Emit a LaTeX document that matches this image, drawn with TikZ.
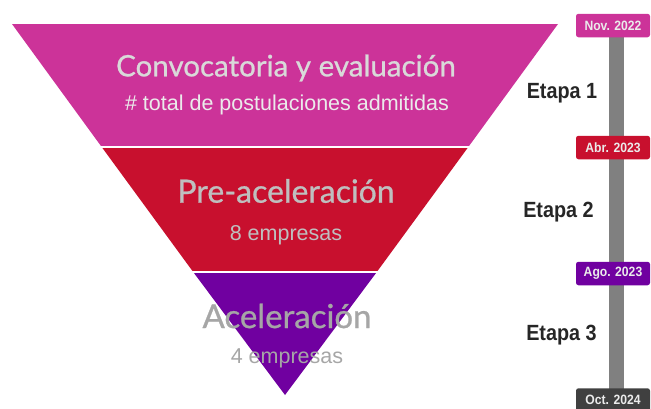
\documentclass[tikz,border=0pt]{standalone}
\usepackage{fontspec}
\setmainfont{Lato}
\newfontfamily\titlefont[FakeBold=0.8]{Lato}
\newfontfamily\subfont{Liberation Sans}
\newfontfamily\etfont[FakeStretch=0.9]{Liberation Sans}
\definecolor{cpink}{HTML}{CC3399}
\definecolor{cred}{HTML}{C8102E}
\definecolor{cpurple}{HTML}{7000A0}
\definecolor{cbar}{HTML}{808080}
\definecolor{cdark}{HTML}{404040}
\begin{document}
\begin{tikzpicture}[x=1pt,y=-1pt,
  title/.style={inner sep=0pt},
  sub/.style={font=\subfont\fontsize{21.5}{23}\selectfont, inner sep=0pt},
  etapa/.style={font=\etfont\bfseries\fontsize{22}{24}\selectfont, text=black!85, inner sep=0pt},
  datebox/.style={rounded corners=2.5pt, minimum width=74pt, minimum height=23.5pt, inner sep=0pt, text=white!92!black, font=\etfont\bfseries\fontsize{13.5}{15}\selectfont}]
\useasboundingbox (0,0) rectangle (651,408);
% funnel
\fill[cpink] (12,24) -- (558,24) -- (468.3,147) -- (101.7,147) -- cycle;
\fill[cred] (101.7,147) -- (468.3,147) -- (376.8,272) -- (193.2,272) -- cycle;
\fill[cpurple] (193.2,272) -- (376.8,272) -- (285,395) -- cycle;
\draw[white, line width=1.8pt] (90,147) -- (480,147);
\draw[white, line width=1.8pt] (180,272) -- (390,272);
% texts
\node[title, font=\titlefont\fontsize{29.5}{31}\selectfont, text=white!85!black] (t1) at (286,68) {Convocatoria y evaluación};
\node[sub, text=white!92!black] (s1) at (287,105) {\# total de postulaciones admitidas};
\node[title, font=\titlefont\fontsize{32}{34}\selectfont, text=white!75!black] (t2) at (286,191) {Pre-aceleración};
\node[sub, text=white!75!black] (s2) at (286,235) {8 empresas};
\node[title, font=\titlefont\fontsize{33}{35}\selectfont, text=white!65!black] (t3) at (287,316) {Aceleración};
\node[sub, text=white!65!black] (s3) at (287,358) {4 empresas};
% timeline
\fill[cbar] (609,30) rectangle (624,398);
\node[datebox, fill=cpink] (d1) at (613,25.5) {Nov. 2022};
\node[datebox, fill=cred] (d2) at (613,147.5) {Abr. 2023};
\node[datebox, fill=cpurple] (d3) at (613,273.5) {Ago. 2023};
\node[datebox, fill=cdark] (d4) at (613,400) {Oct. 2024};
\node[etapa] (e1) at (562,93) {Etapa 1};
\node[etapa] (e2) at (558.5,212) {Etapa 2};
\node[etapa] (e3) at (561.5,335) {Etapa 3};
\end{tikzpicture}
\end{document}
